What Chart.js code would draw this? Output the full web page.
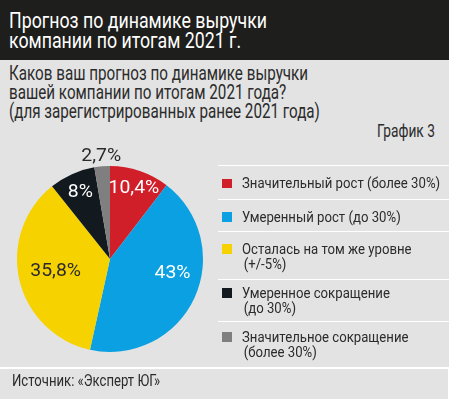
<!DOCTYPE html>
<html>
<head>
<meta charset="utf-8">
<script src="https://cdn.jsdelivr.net/npm/chart.js@4"></script>
<style>
  html, body { margin: 0; padding: 0; }
  body {
    width: 449px; height: 399px; position: relative; overflow: hidden;
    background: #e3e3e3;
    font-family: Roboto, 'DejaVu Sans', sans-serif;
    color: #2b2b2b;
  }
  .fit { display: inline-block; white-space: nowrap; transform-origin: 0 0; }
  #header {
    position: absolute; left: 0; top: 0; width: 449px; height: 60px;
    background: #1e1e1c; color: #fff;
    font-size: 22.5px; line-height: 20px;
    box-sizing: border-box; padding: 10.3px 0 0 9px;
  }
  #question {
    position: absolute; left: 9px; top: 63.8px;
    font-size: 19.5px; line-height: 19px;
  }
  #num {
    position: absolute; left: 377px; top: 121px;
    font-size: 18px; line-height: 20px;
  }
  #pie { position: absolute; left: 0; top: 139px; }
  #legend {
    position: absolute; left: 218px; top: 165px; width: 231px;
    font-size: 15.5px; line-height: 15px;
  }
  .row {
    position: relative; box-sizing: border-box;
    border-top: 1.5px solid #fff; padding-left: 24px;
  }
  .sw { position: absolute; left: 4px; width: 10px; height: 9.5px; }
  .second { padding-left: 2px; }
  #bottom {
    position: absolute; left: 0; top: 366.5px; width: 448px; height: 40px;
    border-top: 2px solid #fff; border-right: 1px solid #fff;
  }
  #source {
    position: absolute; left: 12px; top: 371px;
    font-size: 16.5px; line-height: 20px;
  }
</style>
</head>
<body>
<div id="header"><span class="fit" id="titleText">Прогноз по динамике выручки<br>компании по итогам 2021 г.</span></div>
<div id="question"><span class="fit" id="questionText">Каков ваш прогноз по динамике выручки<br>вашей компании по итогам 2021 года?<br>(для зарегистрированных ранее 2021 года)</span></div>
<div id="num"><span class="fit" id="numText">График 3</span></div>
<canvas id="pie" width="220" height="240"></canvas>
<div id="legend"></div>
<div id="bottom"></div>
<div id="source"><span class="fit" id="sourceText">Источник: «Эксперт ЮГ»</span></div>
<script>
// данные
const categories = [
    'Значительный рост (более 30%)',
    'Умеренный рост (до 30%)',
    'Осталась на том же уровне\n(+/-5%)',
    'Умеренное сокращение\n(до 30%)',
    'Значительное сокращение\n(более 30%)'
];
const shares = [10.4, 43, 35.8, 8, 2.7];
const shareLabels = ['10,4%', '43%', '35,8%', '8%', '2,7%'];

// оформление
const colors = ['#d11f2a', '#0aa0e2', '#f6d200', '#131a1f', '#7f7f7f'];
const labelColors = ['#fff', '#fff', '#2b2b2b', '#fff', '#2b2b2b'];
const labelRadius = [0.8, 0.69, 0.6, 0.78, 1.11];
const labelShift = [0, -0.21, 0, 0, 0];
const rowHeights = [34, 32, 48, 42, 47];
const rowPads = [10, 9.5, 9.7, 5.7, 7.7];

// сжатие текста по ширине (узкий шрифт в оригинале)
function fitX(el, target) {
    const s = target / el.offsetWidth;
    el.style.transform = 'scaleX(' + s + ')';
    return s;
}

// легенда
const legend = document.getElementById('legend');
const legendTexts = [];
categories.forEach((cat, i) => {
    const row = document.createElement('div');
    row.className = 'row';
    row.style.height = rowHeights[i] + 'px';
    row.style.paddingTop = rowPads[i] + 'px';
    const lines = cat.split('\n');
    row.innerHTML = '<span class="sw" style="background:' + colors[i] + ';top:' + (rowPads[i] + 2.5) + 'px"></span>' +
        '<span class="fit">' + lines[0] + (lines[1] ? '<br><span class="second">' + lines[1] + '</span>' : '') + '</span>';
    legend.appendChild(row);
    legendTexts.push(row.lastChild);
});

fitX(document.getElementById('titleText'), 258);
fitX(document.getElementById('questionText'), 311);
fitX(document.getElementById('numText'), 58);
fitX(document.getElementById('sourceText'), 148);
const legendScale = 198 / legendTexts[0].offsetWidth;
legendTexts.forEach(t => t.style.transform = 'scaleX(' + legendScale + ')');

// подписи долей
const labelFont = "18.5px Roboto, 'DejaVu Sans', sans-serif";
const sliceLabels = {
    id: 'sliceLabels',
    afterDatasetsDraw(chart) {
        const ctx = chart.ctx;
        const arcs = chart.getDatasetMeta(0).data;
        ctx.save();
        ctx.font = labelFont;
        const sx = 36 / ctx.measureText(shareLabels[1]).width;
        ctx.textAlign = 'center';
        ctx.textBaseline = 'middle';
        arcs.forEach((arc, i) => {
            const p = arc.getProps(['x', 'y', 'startAngle', 'endAngle', 'outerRadius'], true);
            const a = (p.startAngle + p.endAngle) / 2 + labelShift[i];
            const r = p.outerRadius * labelRadius[i];
            ctx.save();
            ctx.translate(p.x + Math.cos(a) * r, p.y + Math.sin(a) * r);
            ctx.scale(sx, 1);
            ctx.fillStyle = labelColors[i];
            ctx.fillText(shareLabels[i], 0, 0);
            ctx.restore();
        });
        ctx.restore();
    }
};

new Chart(document.getElementById('pie').getContext('2d'), {
    type: 'pie',
    data: {
        labels: categories,
        datasets: [{
            data: shares,
            backgroundColor: colors,
            borderWidth: 0
        }]
    },
    options: {
        responsive: false,
        animation: false,
        layout: { padding: { top: 27, bottom: 27, left: 17, right: 17 } },
        plugins: {
            legend: { display: false },
            tooltip: { enabled: false }
        }
    },
    plugins: [sliceLabels]
});
</script>
</body>
</html>
